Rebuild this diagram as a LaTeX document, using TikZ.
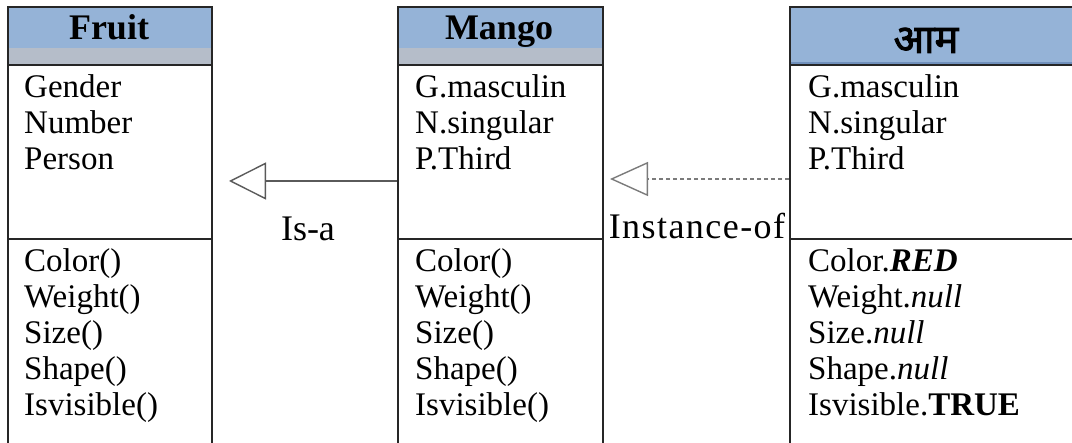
\documentclass[tikz,border=0pt]{standalone}
\usepackage{fontspec}
\setmainfont{Liberation Serif}
\newfontfamily\deva[Script=Devanagari, FakeBold=2.2]{Noto Sans}
\usetikzlibrary{arrows.meta}
\definecolor{hdrblue}{HTML}{95B3D7}
\definecolor{hdrgray}{HTML}{B5BDC9}
\definecolor{hdrline}{HTML}{7090BC}
\definecolor{linegray}{HTML}{5A5A5A}
\begin{document}
\begin{tikzpicture}[x=1pt,y=-1pt,
  box/.style={draw=black!85, line width=1.6pt, anchor=north west, inner sep=0pt},
  rule/.style={draw=black!85, line width=1.6pt},
  txt/.style={font=\fontsize{33}{36}\selectfont, inner sep=0pt, anchor=base west},
  hdr/.style={font=\fontsize{36}{40}\selectfont\bfseries, inner sep=0pt, anchor=base},
  lbl/.style={font=\fontsize{36}{40}\selectfont, inner sep=0pt, anchor=base},
  isa/.style={draw=linegray, line width=1.4pt, -{Triangle[open, length=37pt, width=37pt, line width=1.4pt]}},
  inst/.style={draw=linegray!80, line width=1.4pt, dash pattern=on 4pt off 3pt, -{Triangle[open, length=38pt, width=34pt, line width=1.4pt]}}
]
\useasboundingbox (0,0) rectangle (1072,443);
\clip (0,0) rectangle (1072,443);
% header fills
\fill[hdrblue] (7,6) rectangle (211,48);
\fill[hdrgray] (7,48) rectangle (211,65);
\fill[hdrblue] (397,6) rectangle (602,48);
\fill[hdrgray] (397,48) rectangle (602,65);
\fill[hdrblue] (789,6) rectangle (1100,65);
\draw[hdrline, line width=1.2pt] (789,63) -- (1100,63);
% boxes
\node[box, minimum width=204pt, minimum height=480pt] (fruit) at (7,6) {};
\node[box, minimum width=205pt, minimum height=480pt] (mango) at (397,6) {};
\node[box, minimum width=320pt, minimum height=480pt] (aam) at (789,6) {};
% rules
\foreach \b in {fruit,mango,aam}{
  \draw[rule] (\b.west |- 0,65) -- (\b.east |- 0,65);
  \draw[rule] (\b.west |- 0,239) -- (\b.east |- 0,239);
}
% headers
\node[hdr] (fruitH) at (109,40) {Fruit};
\node[hdr] (mangoH) at (499,40) {Mango};
\node[font=\fontsize{40}{44}\selectfont\deva, inner sep=0pt, anchor=base] (aamH) at (926,53) {आम};
% Fruit texts
\node[txt] (f1) at (24,98) {Gender};
\node[txt] (f2) at (24,134) {Number};
\node[txt] (f3) at (24,170) {Person};
\node[txt] (fm1) at (24,272) {Color()};
\node[txt] (fm2) at (24,308) {Weight()};
\node[txt] (fm3) at (24,344) {Size()};
\node[txt] (fm4) at (24,380) {Shape()};
\node[txt] (fm5) at (24,416) {Isvisible()};
% Mango texts
\node[txt] (m1) at (415,98) {G.masculin};
\node[txt] (m2) at (415,134) {N.singular};
\node[txt] (m3) at (415,170) {P.Third};
\node[txt] (mm1) at (415,272) {Color()};
\node[txt] (mm2) at (415,308) {Weight()};
\node[txt] (mm3) at (415,344) {Size()};
\node[txt] (mm4) at (415,380) {Shape()};
\node[txt] (mm5) at (415,416) {Isvisible()};
% Aam texts
\node[txt] (a1) at (808,98) {G.masculin};
\node[txt] (a2) at (808,134) {N.singular};
\node[txt] (a3) at (808,170) {P.Third};
\node[txt] (am1) at (808,272) {Color.\textbf{\textit{RED}}};
\node[txt] (am2) at (808,308) {Weight.\textit{null}};
\node[txt] (am3) at (808,344) {Size.\textit{null}};
\node[txt] (am4) at (808,380) {Shape.\textit{null}};
\node[txt] (am5) at (808,416) {Isvisible.\textbf{TRUE}};
% connectors
\coordinate (isaTip) at (229,181);
\coordinate (instTip) at (610,179);
\draw[isa] (mango.west |- isaTip) -- (isaTip);
\draw[inst] (aam.west |- instTip) -- (instTip);
% labels
\node[lbl] (isaL) at (308,241) {Is-a};
\node[lbl, font=\fontsize{36}{40}\selectfont\addfontfeature{LetterSpace=4}] (instL) at (697,239) {Instance-of};
\end{tikzpicture}
\end{document}
